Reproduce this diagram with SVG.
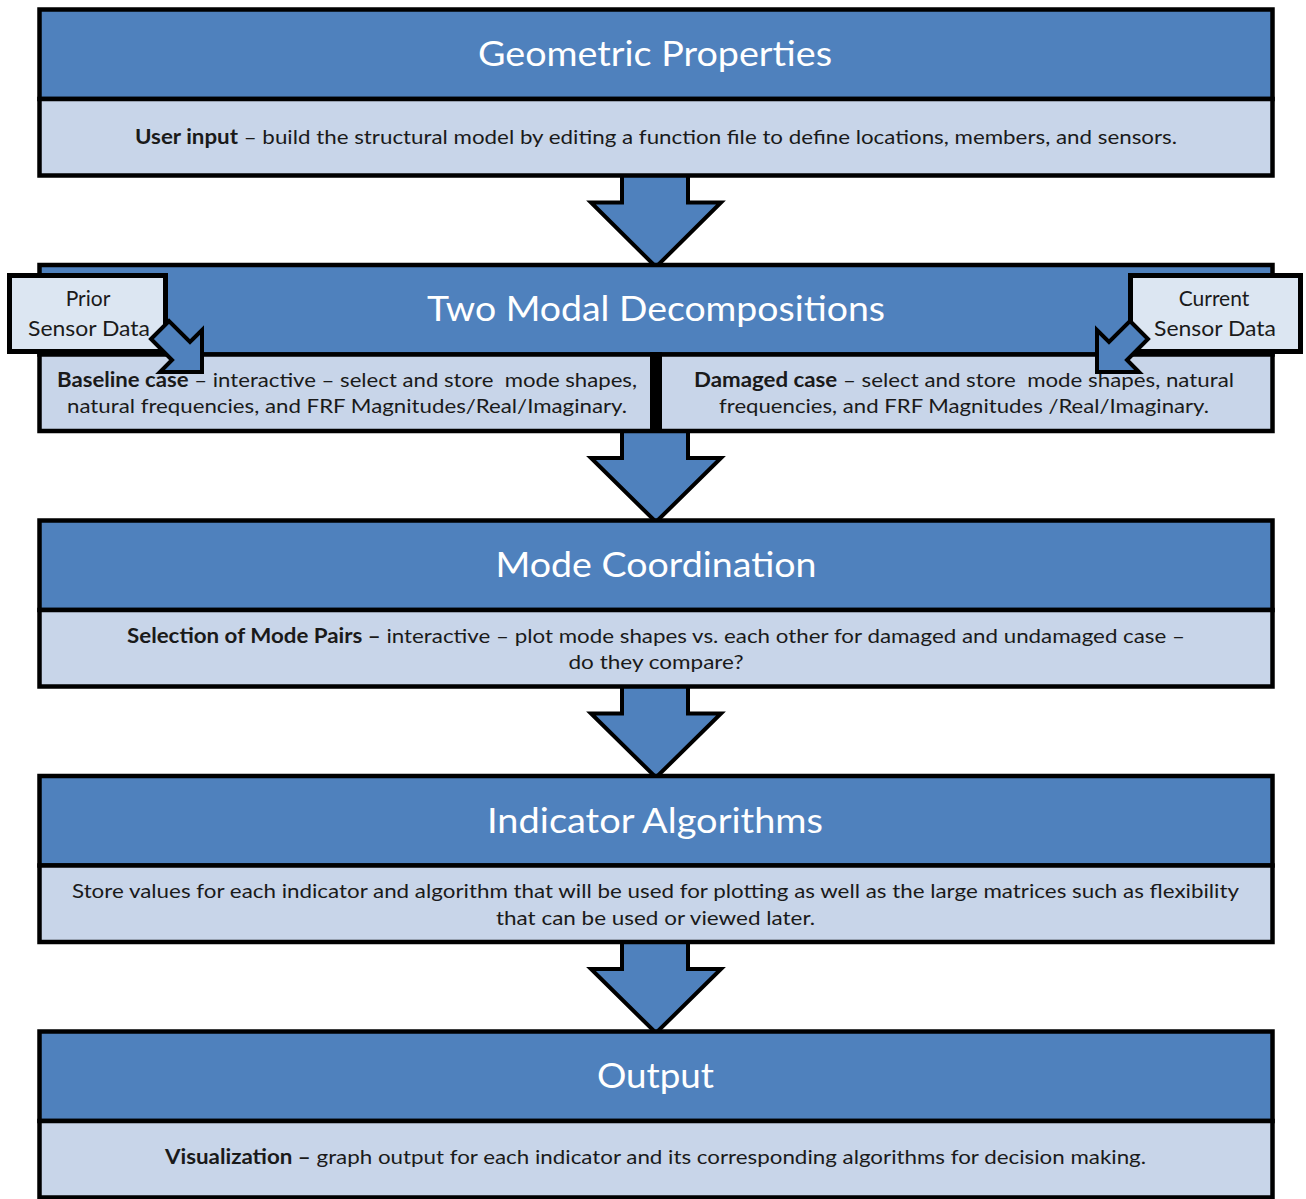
<svg xmlns="http://www.w3.org/2000/svg" width="1306" height="1199" viewBox="0 0 1306 1199">
<style>
.hdr{fill:#4f81bd;stroke:#000;stroke-width:4.5}
.body{fill:#c8d5e9;stroke:#000;stroke-width:4.5}
.side{fill:#dce6f2;stroke:#000;stroke-width:5}
.arrow{fill:#4f81bd;stroke:#000;stroke-width:4;stroke-linejoin:miter}
.title{font-family:Lato,"Open Sans","Liberation Sans",sans-serif;font-size:35px;fill:#fff;text-anchor:middle}
.txt{font-family:Lato,"Open Sans","Liberation Sans",sans-serif;font-size:20px;fill:#1a1a1a;text-anchor:middle}
.stxt{font-family:Lato,"Open Sans","Liberation Sans",sans-serif;font-size:21px;fill:#1a1a1a;text-anchor:middle}
.b{font-weight:bold}
</style>
<rect width="1306" height="1199" fill="#fff"/>
<g id="connectors">
<polygon class="arrow" points="622,175 688,175 688,202.5 721,202.5 656,267 591,202.5 622,202.5"/>
<polygon class="arrow" points="622,431 688,431 688,458 721,458 656,522 591,458 622,458"/>
<polygon class="arrow" points="622,686 688,686 688,713.5 721,713.5 656,777.5 591,713.5 622,713.5"/>
<polygon class="arrow" points="622,942 688,942 688,969 721,969 656,1033 591,969 622,969"/>
</g>
<g id="geometric-properties">
<rect class="hdr" x="39.5" y="9.5" width="1233" height="89.5"/>
<rect class="body" x="39.5" y="99" width="1233" height="76.5"/>
<text class="title" x="655" y="66" textLength="354" lengthAdjust="spacingAndGlyphs">Geometric Properties</text>
<text class="txt" x="656" y="144" textLength="1042" lengthAdjust="spacingAndGlyphs"><tspan class="b">User input</tspan> – build the structural model by editing a function file to define locations, members, and sensors.</text>
</g>
<g id="two-modal-decompositions">
<rect class="hdr" x="39.5" y="265" width="1233" height="89.5"/>
<rect class="body" x="39.5" y="354.5" width="1233" height="76.5"/>
<rect x="650" y="352" width="12" height="80" fill="#000"/>
<text class="title" x="656" y="321" textLength="458" lengthAdjust="spacingAndGlyphs">Two Modal Decompositions</text>
<text class="txt" x="347" y="387" xml:space="preserve" textLength="580" lengthAdjust="spacingAndGlyphs"><tspan class="b">Baseline case</tspan> – interactive – select and store  mode shapes,</text>
<text class="txt" x="347" y="413" textLength="560" lengthAdjust="spacingAndGlyphs">natural frequencies, and FRF Magnitudes/Real/Imaginary.</text>
<text class="txt" x="964" y="387" xml:space="preserve" textLength="540" lengthAdjust="spacingAndGlyphs"><tspan class="b">Damaged case</tspan> – select and store  mode shapes, natural</text>
<text class="txt" x="964" y="413" textLength="490" lengthAdjust="spacingAndGlyphs">frequencies, and FRF Magnitudes /Real/Imaginary.</text>
</g>
<g id="prior-sensor-data">
<rect class="side" x="9.5" y="275.5" width="156" height="76"/>
<text class="stxt" x="88" y="306">Prior</text>
<text class="stxt" x="89" y="336" textLength="122" lengthAdjust="spacingAndGlyphs">Sensor Data</text>
</g>
<g id="current-sensor-data">
<rect class="side" x="1130.5" y="275.5" width="170" height="76"/>
<text class="stxt" x="1214" y="306">Current</text>
<text class="stxt" x="1215" y="336" textLength="122" lengthAdjust="spacingAndGlyphs">Sensor Data</text>
</g>
<g id="side-connectors">
<polygon class="arrow" points="151,339 169,321 190,342 202,330 202,372 160,372 172,360"/>
<polygon class="arrow" points="1130,321 1148,339 1127,360 1139,372 1097,372 1097,330 1109,342"/>
</g>
<g id="mode-coordination">
<rect class="hdr" x="39.5" y="520.5" width="1233" height="89.5"/>
<rect class="body" x="39.5" y="610" width="1233" height="76.5"/>
<text class="title" x="656" y="577" textLength="321" lengthAdjust="spacingAndGlyphs">Mode Coordination</text>
<text class="txt" x="656" y="643" textLength="1058" lengthAdjust="spacingAndGlyphs"><tspan class="b">Selection of Mode Pairs –</tspan> interactive – plot mode shapes vs. each other for damaged and undamaged case –</text>
<text class="txt" x="656" y="669" textLength="175" lengthAdjust="spacingAndGlyphs">do they compare?</text>
</g>
<g id="indicator-algorithms">
<rect class="hdr" x="39.5" y="776" width="1233" height="89.5"/>
<rect class="body" x="39.5" y="865.5" width="1233" height="76.5"/>
<text class="title" x="655" y="833" textLength="336" lengthAdjust="spacingAndGlyphs">Indicator Algorithms</text>
<text class="txt" x="655.5" y="898" textLength="1167" lengthAdjust="spacingAndGlyphs">Store values for each indicator and algorithm that will be used for plotting as well as the large matrices such as flexibility</text>
<text class="txt" x="655.5" y="925" textLength="319" lengthAdjust="spacingAndGlyphs">that can be used or viewed later.</text>
</g>
<g id="output">
<rect class="hdr" x="39.5" y="1031.5" width="1233" height="89.5"/>
<rect class="body" x="39.5" y="1121" width="1233" height="76.5"/>
<text class="title" x="655.5" y="1088" textLength="117" lengthAdjust="spacingAndGlyphs">Output</text>
<text class="txt" x="655.5" y="1164" textLength="981" lengthAdjust="spacingAndGlyphs"><tspan class="b">Visualization –</tspan> graph output for each indicator and its corresponding algorithms for decision making.</text>
</g>
</svg>
